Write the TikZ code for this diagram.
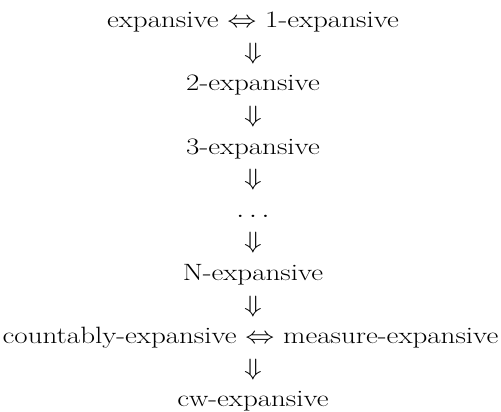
\RequirePackage{fix-cm}
\documentclass[tikz,border=0pt]{standalone}
\usepackage{amsmath,amssymb}
\usepackage{graphicx}
\usepackage{tikz}

% the reference is set wider than tall
\newcommand{\widen}[1]{\scalebox{1.229}[1]{#1}}

\begin{document}
\begin{tikzpicture}[x=1pt, y=-1pt,
  every node/.style={anchor=base, inner sep=0pt, font=\fontsize{23.6}{28}\selectfont}]
\useasboundingbox (0,0) rectangle (501,412);
\node (exp) at (253,27.5) {\widen{expansive $\Leftrightarrow$ 1-expansive}};
\node (i1) at (253,59.1) {\widen{$\Downarrow$}};
\node (two) at (253,90.7) {\widen{2-expansive}};
\node (i2) at (253,122.4) {\widen{$\Downarrow$}};
\node (three) at (253,154) {\widen{3-expansive}};
\node (i3) at (253,185.6) {\widen{$\Downarrow$}};
\node (dots) at (253,217.2) {\widen{$\ldots$}};
\node (i4) at (253,248.8) {\widen{$\Downarrow$}};
\node (nexp) at (253,280.5) {\widen{N-expansive}};
\node (i5) at (253,312.1) {\widen{$\Downarrow$}};
\node (count) at (250.5,343.7) {\widen{countably-expansive $\Leftrightarrow$ measure-expansive}};
\node (i6) at (253,375.3) {\widen{$\Downarrow$}};
\node (cw) at (253,406.9) {\widen{cw-expansive}};
\end{tikzpicture}
\end{document}
